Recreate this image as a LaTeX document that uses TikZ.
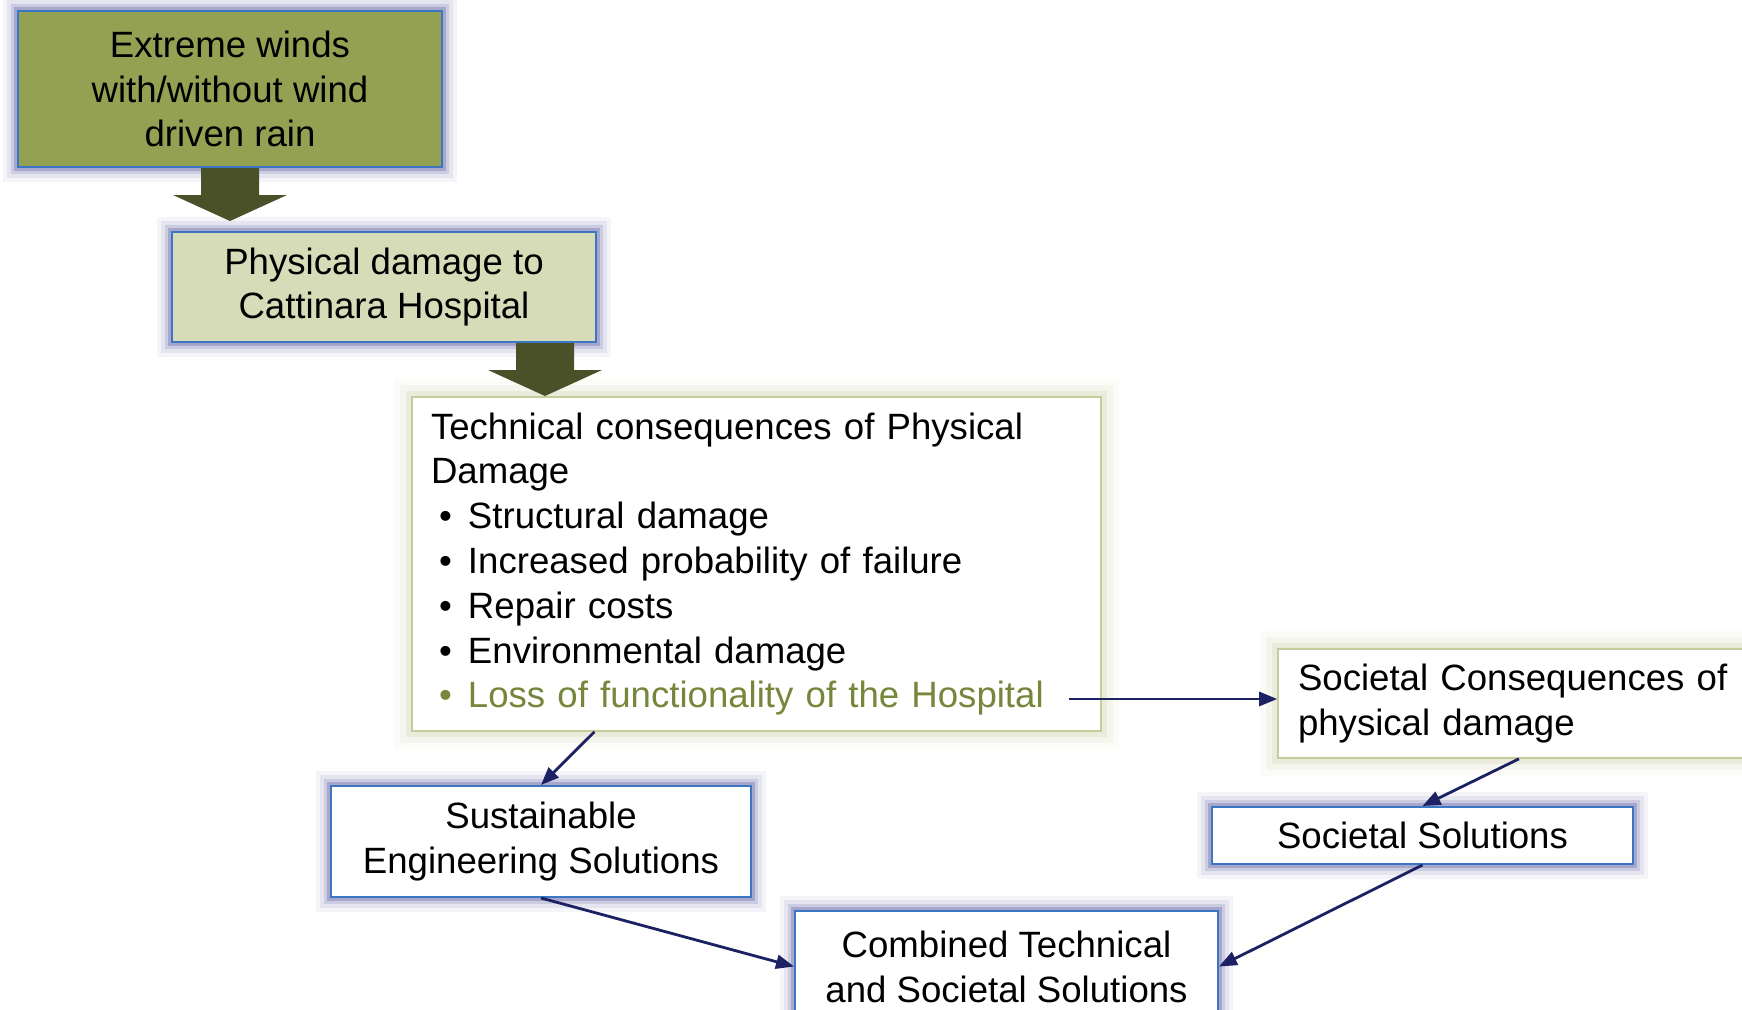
\documentclass[tikz,border=0pt]{standalone}
\usepackage{fontspec}
\setmainfont{Liberation Sans}
\usetikzlibrary{positioning,arrows.meta}

\definecolor{windfill}{RGB}{148,160,82}
\definecolor{physfill}{RGB}{214,219,184}
\definecolor{arrowfill}{RGB}{74,81,40}
\definecolor{boxblue}{RGB}{58,118,196}
\definecolor{glowblue}{RGB}{84,84,156}
\definecolor{boxolive}{RGB}{196,204,156}
\definecolor{glowolive}{RGB}{200,208,164}
\definecolor{lossolive}{RGB}{118,134,59}
\definecolor{connnavy}{RGB}{27,33,99}

\tikzset{
  txt/.style={font=\fontsize{18.3}{22.4}\selectfont},
  bluebox/.style={txt, draw=boxblue, line width=1pt, align=center, inner sep=0pt,
    preaction={draw=glowblue, line width=15pt, opacity=0.06},
    preaction={draw=glowblue, line width=11pt, opacity=0.10},
    preaction={draw=glowblue, line width=7pt, opacity=0.18},
    preaction={draw=glowblue, line width=4pt, opacity=0.30}},
  olivebox/.style={txt, draw=boxolive, line width=0.8pt, fill=white, align=left,
    inner ysep=0pt, inner xsep=9.5pt,
    preaction={draw=glowolive, line width=18pt, opacity=0.08},
    preaction={draw=glowolive, line width=12pt, opacity=0.14},
    preaction={draw=glowolive, line width=6pt, opacity=0.25}},
  conn/.style={draw=connnavy, line width=1.4pt, -{Triangle[length=9pt,width=7pt]}}
}

\newcommand{\bul}{\hspace*{4pt}\makebox[14.5pt][l]{\textbullet}}
\newcommand{\blockarrow}[1]{\fill[arrowfill] #1 ++(-29,0) -- ++(0,27) -- ++(-28,0)
  -- ++(57,26) -- ++(57,-26) -- ++(-28,0) -- ++(0,-27) -- cycle;}

\begin{document}
\begin{tikzpicture}[x=0.5pt,y=-0.5pt]
\path[use as bounding box,clip] (0,0) rectangle (1742,1009);

\node[bluebox, fill=windfill, minimum width=212pt, minimum height=78pt] (wind) at (230,89)
  {Extreme winds\\with/without wind\\driven rain};
\node[bluebox, fill=physfill, minimum width=212pt, minimum height=55pt] (phys) at (384,287)
  {Physical damage to\\Cattinara Hospital};

\node[olivebox, text width=325.5pt, minimum height=167pt] (tech) at (756.5,564)
  {Technical consequences of Physical\\Damage\\
   \bul Structural damage\\
   \bul Increased probability of failure\\
   \bul Repair costs\\
   \bul Environmental damage\\
   {\color{lossolive}\bul Loss of functionality of the Hospital}};

\node[olivebox, inner xsep=10pt, text width=221pt, minimum height=54.5pt] (soc) at (1519,703.5)
  {Societal Consequences of\\physical damage};

\node[bluebox, fill=white, minimum width=210pt, minimum height=55.5pt] (sust) at (541,841.5)
  {Sustainable\\Engineering Solutions};
\node[bluebox, fill=white, minimum width=210.5pt, minimum height=28.5pt] (socsol) at (1422.5,835.5)
  {Societal Solutions};
\node[bluebox, fill=white, minimum width=211.5pt, minimum height=55.5pt] (combo) at (1006.5,966.5)
  {Combined Technical\\and Societal Solutions};

\blockarrow{(wind.south)}
\blockarrow{([xshift=80.5pt]phys.south)}

\coordinate (lossend) at (1069,699);
\draw[conn] (lossend) -- (lossend -| soc.west);
\draw[conn] (tech.226) -- (sust.north);
\draw[conn] (soc.south) -- (socsol.north);
\draw[conn] (sust.south) -- (combo.west);
\draw[conn] (socsol.south) -- (combo.east);

\end{tikzpicture}
\end{document}
